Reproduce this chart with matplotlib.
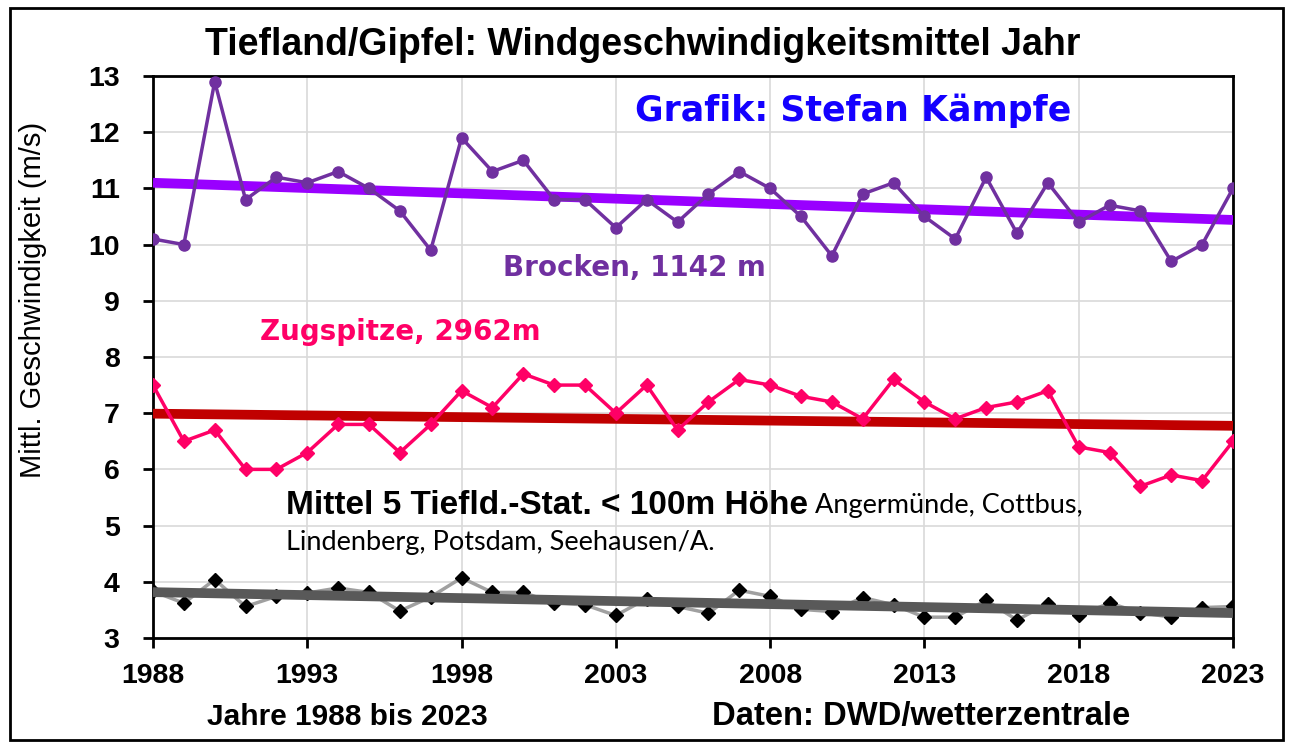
import numpy as np
import matplotlib
matplotlib.use("Agg")
import matplotlib.pyplot as plt
from matplotlib.patches import Rectangle

plt.rcParams['font.family'] = ['Liberation Sans', 'DejaVu Sans']

# data
years = list(range(1988, 2024))
brocken = [10.1, 10.0, 12.9, 10.8, 11.2, 11.1, 11.3, 11.0, 10.6, 9.9,
           11.9, 11.3, 11.5, 10.8, 10.8, 10.3, 10.8, 10.4, 10.9, 11.3,
           11.0, 10.5, 9.8, 10.9, 11.1, 10.5, 10.1, 11.2, 10.2, 11.1,
           10.4, 10.7, 10.6, 9.7, 10.0, 11.0]
zugspitze = [7.5, 6.5, 6.7, 6.0, 6.0, 6.3, 6.8, 6.8, 6.3, 6.8,
             7.4, 7.1, 7.7, 7.5, 7.5, 7.0, 7.5, 6.7, 7.2, 7.6,
             7.5, 7.3, 7.2, 6.9, 7.6, 7.2, 6.9, 7.1, 7.2, 7.4,
             6.4, 6.3, 5.7, 5.9, 5.8, 6.5]
tiefland = [3.83, 3.62, 4.04, 3.56, 3.74, 3.80, 3.89, 3.81, 3.48, 3.73,
            4.07, 3.81, 3.81, 3.62, 3.59, 3.40, 3.70, 3.56, 3.44, 3.85,
            3.74, 3.51, 3.47, 3.72, 3.59, 3.37, 3.37, 3.67, 3.32, 3.61,
            3.40, 3.62, 3.45, 3.37, 3.54, 3.56]
xticks = list(range(1988, 2024, 5))
yticks = list(range(3, 14))

fig = plt.figure(figsize=(12.9, 7.48), dpi=100)
ax = fig.add_axes([0.1186, 0.1471, 0.8372, 0.7513])

x = np.array(years)

def trend(vals):
    k, d = np.polyfit(x, vals, 1)
    return k * x + d

# trend lines below the series
ax.plot(x, trend(brocken), color='#9900FF', lw=7, solid_capstyle='butt', zorder=3)
ax.plot(x, trend(zugspitze), color='#C00000', lw=7, solid_capstyle='butt', zorder=3)

ax.plot(x, brocken, color='#7030A0', lw=2.5, marker='o', ms=8, zorder=4)
ax.plot(x, zugspitze, color='#FF0066', lw=2.5, marker='D', ms=7, zorder=4)
ax.plot(x, tiefland, color='#A0A0A0', lw=2.5, marker='D', ms=7,
        mfc='black', mec='black', zorder=4)
ax.plot(x, trend(tiefland), color='#595959', lw=7, solid_capstyle='butt', zorder=5)

ax.set_xlim(1988, 2023)
ax.set_ylim(3, 13)
ax.set_xticks(xticks)
ax.set_yticks(yticks)
ax.grid(True, color='#D9D9D9', lw=1.2)
ax.set_axisbelow(True)
for s in ax.spines.values():
    s.set_linewidth(2)
    s.set_color('black')
ax.tick_params(axis='both', direction='out', length=7, width=2, labelsize=20.5)
ax.tick_params(axis='x', pad=11)
ax.tick_params(axis='y', pad=17)
for lab in ax.get_xticklabels() + ax.get_yticklabels():
    lab.set_fontweight('bold')

ax.set_ylabel('Mittl. Geschwindigkeit (m/s)', fontsize=21)
ax.yaxis.set_label_coords(-0.098, 0.601)

fig.text(0.498, 0.94, 'Tiefland/Gipfel: Windgeschwindigkeitsmittel Jahr',
         ha='center', va='center', fontsize=27, fontweight='bold')

wide = ['DejaVu Sans']
ax.text(2010.7, 12.38, 'Grafik: Stefan Kämpfe', ha='center', va='center',
        fontsize=25, fontweight='bold', color='#1400FF', family=wide)
ax.text(2003.6, 9.58, 'Brocken, 1142 m', ha='center', va='center',
        fontsize=20, fontweight='bold', color='#7030A0', family=wide)
ax.text(1996.0, 8.44, 'Zugspitze, 2962m', ha='center', va='center',
        fontsize=20, fontweight='bold', color='#FF0066', family=wide)
t1 = ax.text(1992.3, 5.35, 'Mittel 5 Tiefld.-Stat. < 100m Höhe', ha='left',
             va='center', fontsize=24, fontweight='bold', color='black')
ax.annotate(' Angermünde, Cottbus,', xy=(1, 0.5), xycoords=t1, ha='left',
            va='center', fontsize=19.5, family=['Lato', 'DejaVu Sans'])
ax.text(1992.3, 4.69, 'Lindenberg, Potsdam, Seehausen/A.', ha='left',
        va='center', fontsize=19.5, family=['Lato', 'DejaVu Sans'])

fig.text(347 / 1290, 1 - 717 / 748, 'Jahre 1988 bis 2023', ha='center',
         va='center', fontsize=21.5, fontweight='bold')
fig.text(921 / 1290, 1 - 717 / 748, 'Daten: DWD/wetterzentrale', ha='center',
         va='center', fontsize=23.6, fontweight='bold')

fig.patches.append(Rectangle((10 / 1290, 8 / 748), 1273 / 1290, 732 / 748,
                             transform=fig.transFigure, fill=False,
                             edgecolor='black', lw=2))

fig.savefig('out.png', dpi=100)
